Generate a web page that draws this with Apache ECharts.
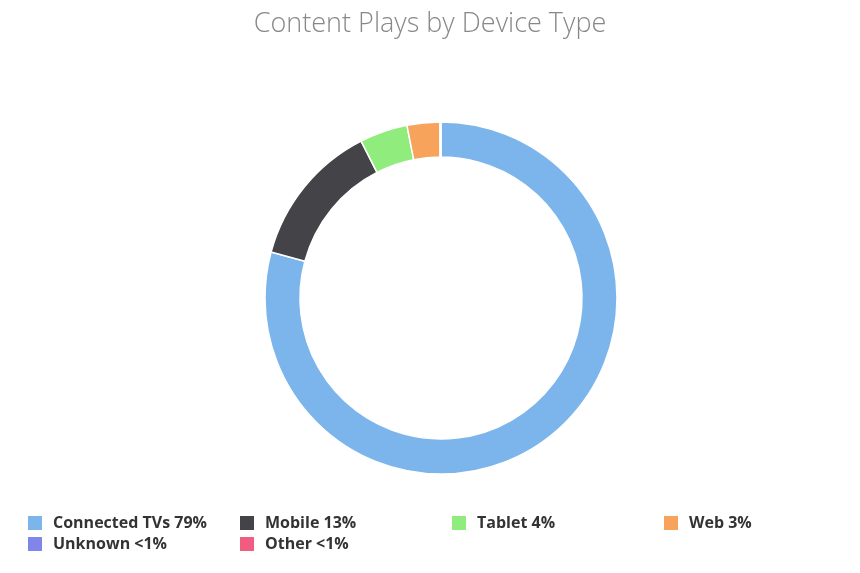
<!DOCTYPE html>
<html>
<head>
<meta charset="utf-8">
<script src="https://cdn.jsdelivr.net/npm/echarts@6/dist/echarts.min.js"></script>
<style>
  html, body { margin: 0; padding: 0; background: #fff; }
  #chart { width: 860px; height: 573px; }
</style>
</head>
<body>
<div id="chart"></div>
<script>
var devices = ['Connected TVs', 'Mobile', 'Tablet', 'Web', 'Unknown', 'Other'];
var plays = [79.2, 13.3, 4.4, 3.0, 0.05, 0.05];
var pctLabels = ['79%', '13%', '4%', '3%', '<1%', '<1%'];
var colors = ['#7cb5ec', '#434348', '#90ed7d', '#f7a35c', '#8085e9', '#f15c80'];
// legend columns, left to right
var legendCols = [['Connected TVs', 'Unknown'], ['Mobile', 'Other'], ['Tablet'], ['Web']];
var legendLeft = [26, 238, 450, 662];

var chart = echarts.init(document.getElementById('chart'));

var legends = legendCols.map(function (names, i) {
  return {
    data: names,
    orient: 'vertical',
    left: legendLeft[i],
    top: 514,
    padding: 0,
    itemWidth: 16,
    itemHeight: 16,
    itemGap: 3,
    icon: 'rect',
    textStyle: {
      fontFamily: 'Open Sans',
      fontWeight: 'bold',
      fontSize: 16,
      lineHeight: 16,
      color: '#333',
      padding: [0, 0, 0, 5]
    },
    formatter: function (name) {
      return name + ' ' + pctLabels[devices.indexOf(name)];
    }
  };
});

chart.setOption({
  color: colors,
  title: {
    text: 'Content Plays by Device Type',
    left: 'center',
    top: 6,
    textStyle: {
      fontFamily: 'Open Sans',
      fontWeight: 300,
      fontSize: 27,
      color: '#888'
    }
  },
  legend: legends,
  series: [{
    type: 'pie',
    center: [441, 298],
    radius: [141, 176],
    startAngle: 90,
    clockwise: true,
    avoidLabelOverlap: false,
    label: { show: false },
    labelLine: { show: false },
    itemStyle: { borderColor: '#fff', borderWidth: 1.5 },
    emphasis: { disabled: true },
    data: devices.map(function (d, i) {
      return { name: d, value: plays[i] };
    })
  }]
});
</script>
</body>
</html>
